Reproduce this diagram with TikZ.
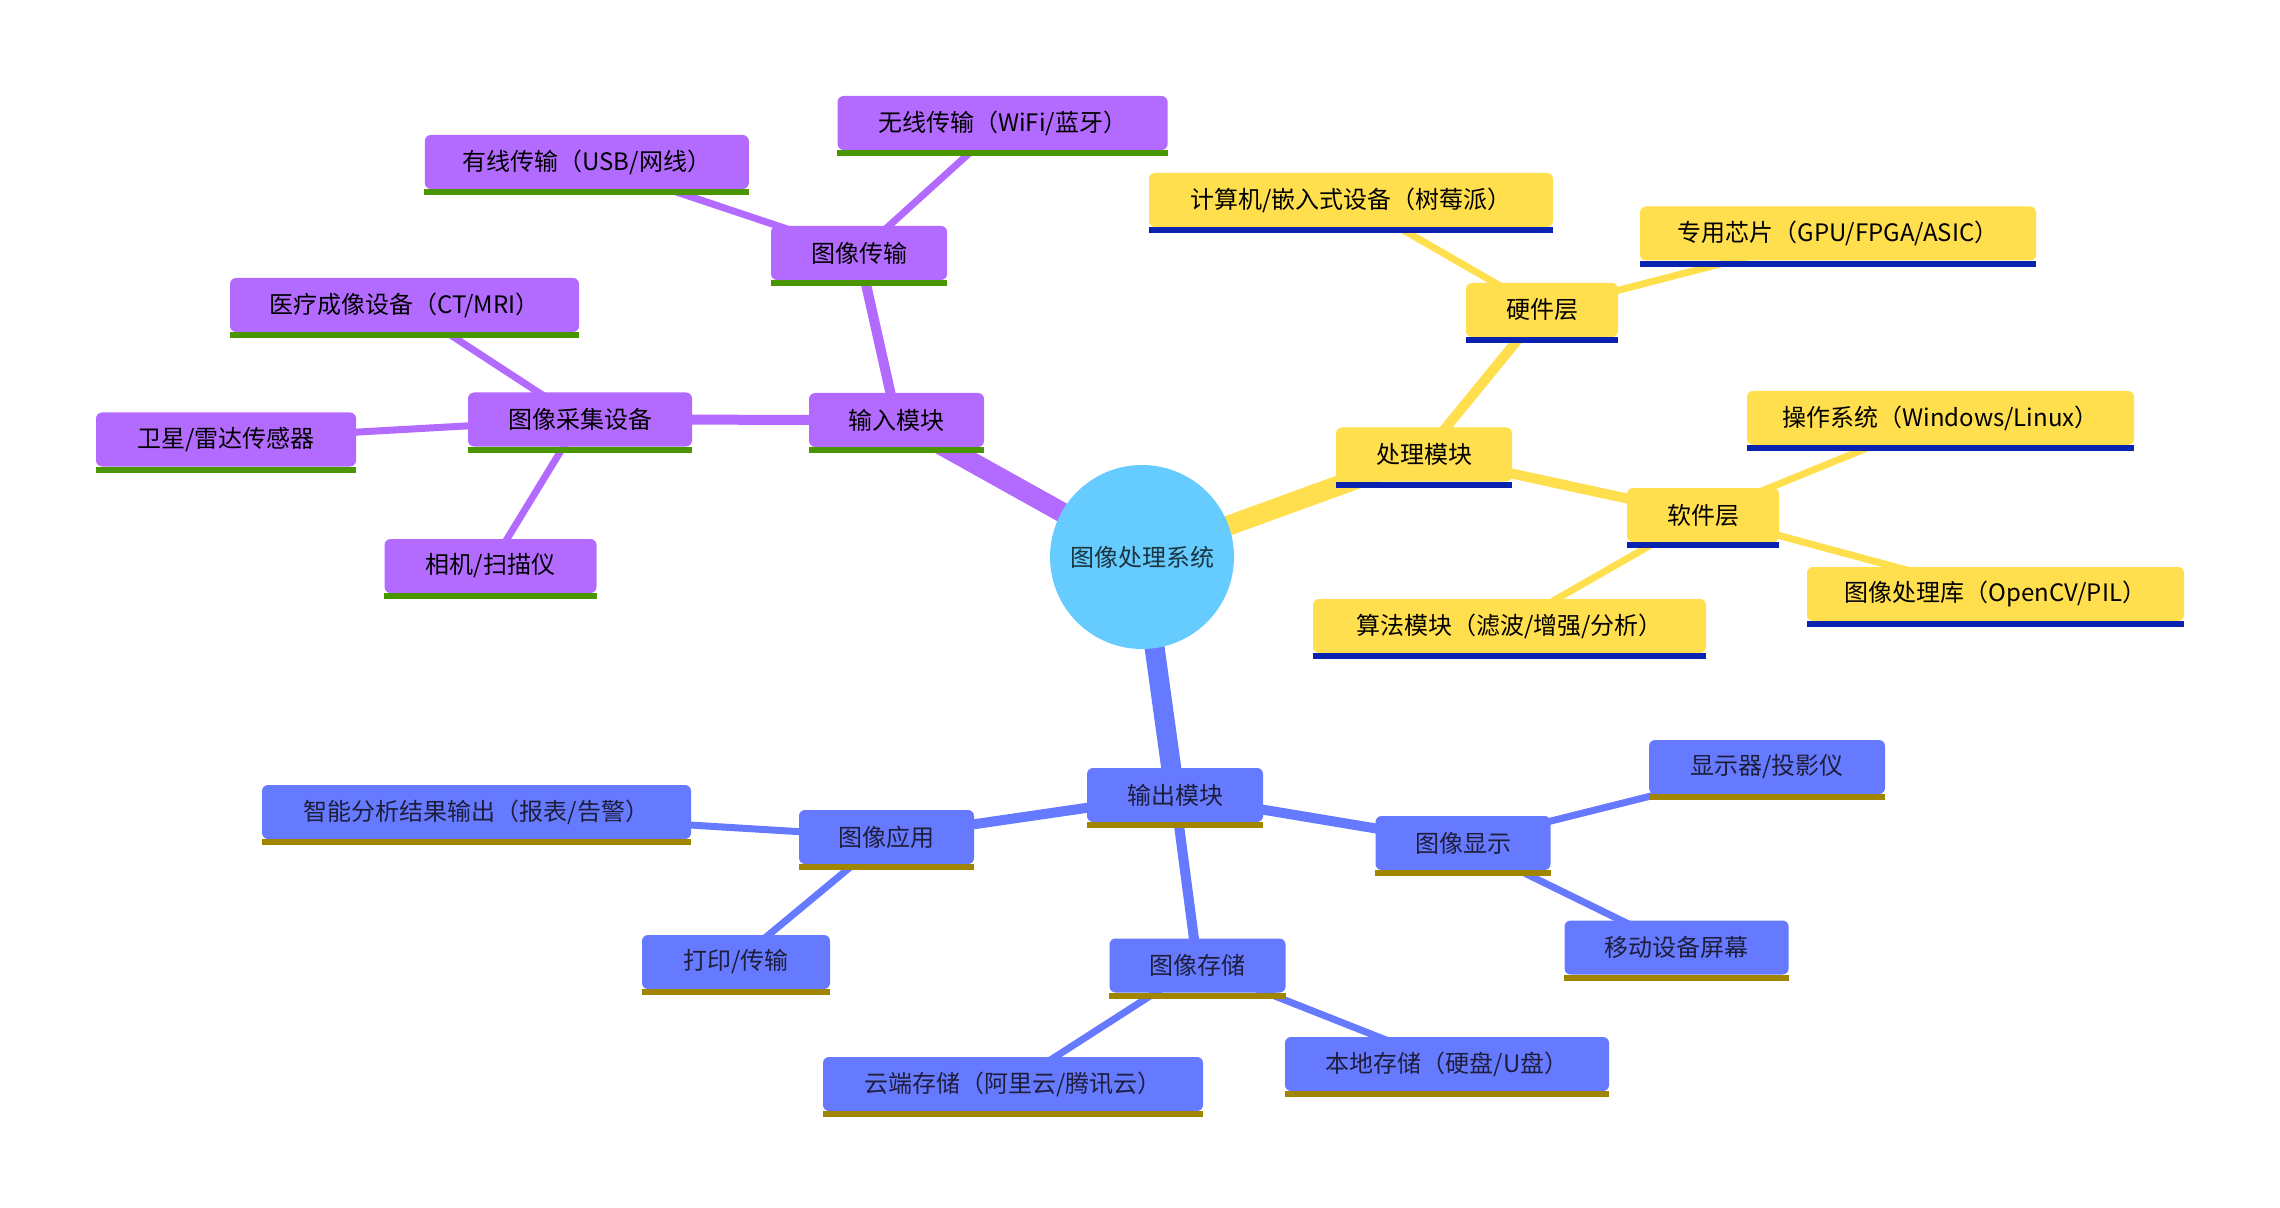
\documentclass[tikz,border=0pt]{standalone}
\usepackage{fontspec}
\setmainfont{Noto Sans CJK SC}
\usetikzlibrary{backgrounds}
\definecolor{cP}{HTML}{B36BFF}
\definecolor{cY}{HTML}{FFDF4D}
\definecolor{cB}{HTML}{667AFF}
\definecolor{cR}{HTML}{66CCFF}
\definecolor{uP}{HTML}{4A9600}
\definecolor{uY}{HTML}{0A22B0}
\definecolor{uB}{HTML}{A08500}
\definecolor{tB}{HTML}{1E1E3C}
\definecolor{tR}{HTML}{1A3440}
\tikzset{
  mm/.style={rectangle, rounded corners=3pt, minimum height=27pt, inner sep=0pt, font=\fontsize{12pt}{14pt}\selectfont},
  pn/.style={mm, fill=cP, text=black},
  yn/.style={mm, fill=cY, text=black},
  bn/.style={mm, fill=cB, text=tB},
  rootnode/.style={circle, fill=cR, minimum size=92pt, inner sep=0pt, text=tR, font=\fontsize{12pt}{14pt}\selectfont},
  e1/.style={line width=10pt},
  e2/.style={line width=5pt},
  e3/.style={line width=3.5pt},
}
\begin{document}
\begin{tikzpicture}[x=0.5pt,y=-0.5pt]
\useasboundingbox (0,0) rectangle (2280,1208);
% root
\node[rootnode] (root) at (1142,557) {图像处理系统};
% input branch
\node[pn, minimum width=87.5pt] (in) at (896.5,420) {输入模块};
\node[pn, minimum width=88pt] (tr) at (859,253) {图像传输};
\node[pn, minimum width=165pt] (w1) at (1002.6,123) {无线传输（WiFi/蓝牙）};
\node[pn, minimum width=162pt] (w2) at (586.8,162) {有线传输（USB/网线）};
\node[pn, minimum width=112pt] (cj) at (580,419.5) {图像采集设备};
\node[pn, minimum width=174.5pt] (yl) at (404.5,305) {医疗成像设备（CT/MRI）};
\node[pn, minimum width=130pt] (wx) at (226,439.5) {卫星/雷达传感器};
\node[pn, minimum width=106pt] (xj) at (490.5,566) {相机/扫描仪};
% processing branch
\node[yn, minimum width=88pt] (cl) at (1424,454.5) {处理模块};
\node[yn, minimum width=76pt] (yj) at (1542,310) {硬件层};
\node[yn, minimum width=202pt] (js) at (1351,200) {计算机/嵌入式设备（树莓派）};
\node[yn, minimum width=198pt] (zy) at (1838,233.5) {专用芯片（GPU/FPGA/ASIC）};
\node[yn, minimum width=76pt] (rj) at (1703,515) {软件层};
\node[yn, minimum width=193.5pt] (cz) at (1940.5,418) {操作系统（Windows/Linux）};
\node[yn, minimum width=188.5pt] (kl) at (1995.5,594) {图像处理库（OpenCV/PIL）};
\node[yn, minimum width=196.5pt] (sf) at (1509.5,626) {算法模块（滤波/增强/分析）};
% output branch
\node[bn, minimum width=88pt] (out) at (1175,795) {输出模块};
\node[bn, minimum width=87.5pt] (tx) at (1463,843) {图像显示};
\node[bn, minimum width=118pt] (xs) at (1767,767) {显示器/投影仪};
\node[bn, minimum width=112pt] (yd) at (1676.6,947.5) {移动设备屏幕};
\node[bn, minimum width=88pt] (cc) at (1197.5,965.5) {图像存储};
\node[bn, minimum width=162pt] (bd) at (1447,1064) {本地存储（硬盘/U盘）};
\node[bn, minimum width=190pt] (yc) at (1013,1084) {云端存储（阿里云/腾讯云）};
\node[bn, minimum width=87.5pt] (yy) at (886.5,837) {图像应用};
\node[bn, minimum width=214.5pt] (zn) at (476.5,812) {智能分析结果输出（报表/告警）};
\node[bn, minimum width=94pt] (dy) at (736,962) {打印/传输};
% underlines
\foreach \n in {in,tr,w1,w2,cj,yl,wx,xj}
  \fill[uP] (\n.south west) rectangle ([yshift=-3pt]\n.south east);
\foreach \n in {cl,yj,js,zy,rj,cz,kl,sf}
  \fill[uY] (\n.south west) rectangle ([yshift=-3pt]\n.south east);
\foreach \n in {out,tx,xs,yd,cc,bd,yc,yy,zn,dy}
  \fill[uB] (\n.south west) rectangle ([yshift=-3pt]\n.south east);
% connectors
\begin{scope}[on background layer]
  \fill[white] (0,0) rectangle (2280,1208);
  \draw[cP,e1] (root.center) -- (in.center);
  \draw[cY,e1] (root.center) -- (cl.center);
  \draw[cB,e1] (root.center) -- (out.center);
  \draw[cP,e2] (in.center) -- (tr.center);
  \draw[cP,e2] (in.center) -- (cj.center);
  \draw[cY,e2] (cl.center) -- (yj.center);
  \draw[cY,e2] (cl.center) -- (rj.center);
  \draw[cB,e2] (out.center) -- (tx.center);
  \draw[cB,e2] (out.center) -- (cc.center);
  \draw[cB,e2] (out.center) -- (yy.center);
  \draw[cP,e3] (tr.center) -- (w1.center);
  \draw[cP,e3] (tr.center) -- (w2.center);
  \draw[cP,e3] (cj.center) -- (yl.center);
  \draw[cP,e3] (cj.center) -- (wx.center);
  \draw[cP,e3] (cj.center) -- (xj.center);
  \draw[cY,e3] (yj.center) -- (js.center);
  \draw[cY,e3] (yj.center) -- (zy.center);
  \draw[cY,e3] (rj.center) -- (cz.center);
  \draw[cY,e3] (rj.center) -- (kl.center);
  \draw[cY,e3] (rj.center) -- (sf.center);
  \draw[cB,e3] (tx.center) -- (xs.center);
  \draw[cB,e3] (tx.center) -- (yd.center);
  \draw[cB,e3] (cc.center) -- (bd.center);
  \draw[cB,e3] (cc.center) -- (yc.center);
  \draw[cB,e3] (yy.center) -- (zn.center);
  \draw[cB,e3] (yy.center) -- (dy.center);
\end{scope}
\end{tikzpicture}
\end{document}
